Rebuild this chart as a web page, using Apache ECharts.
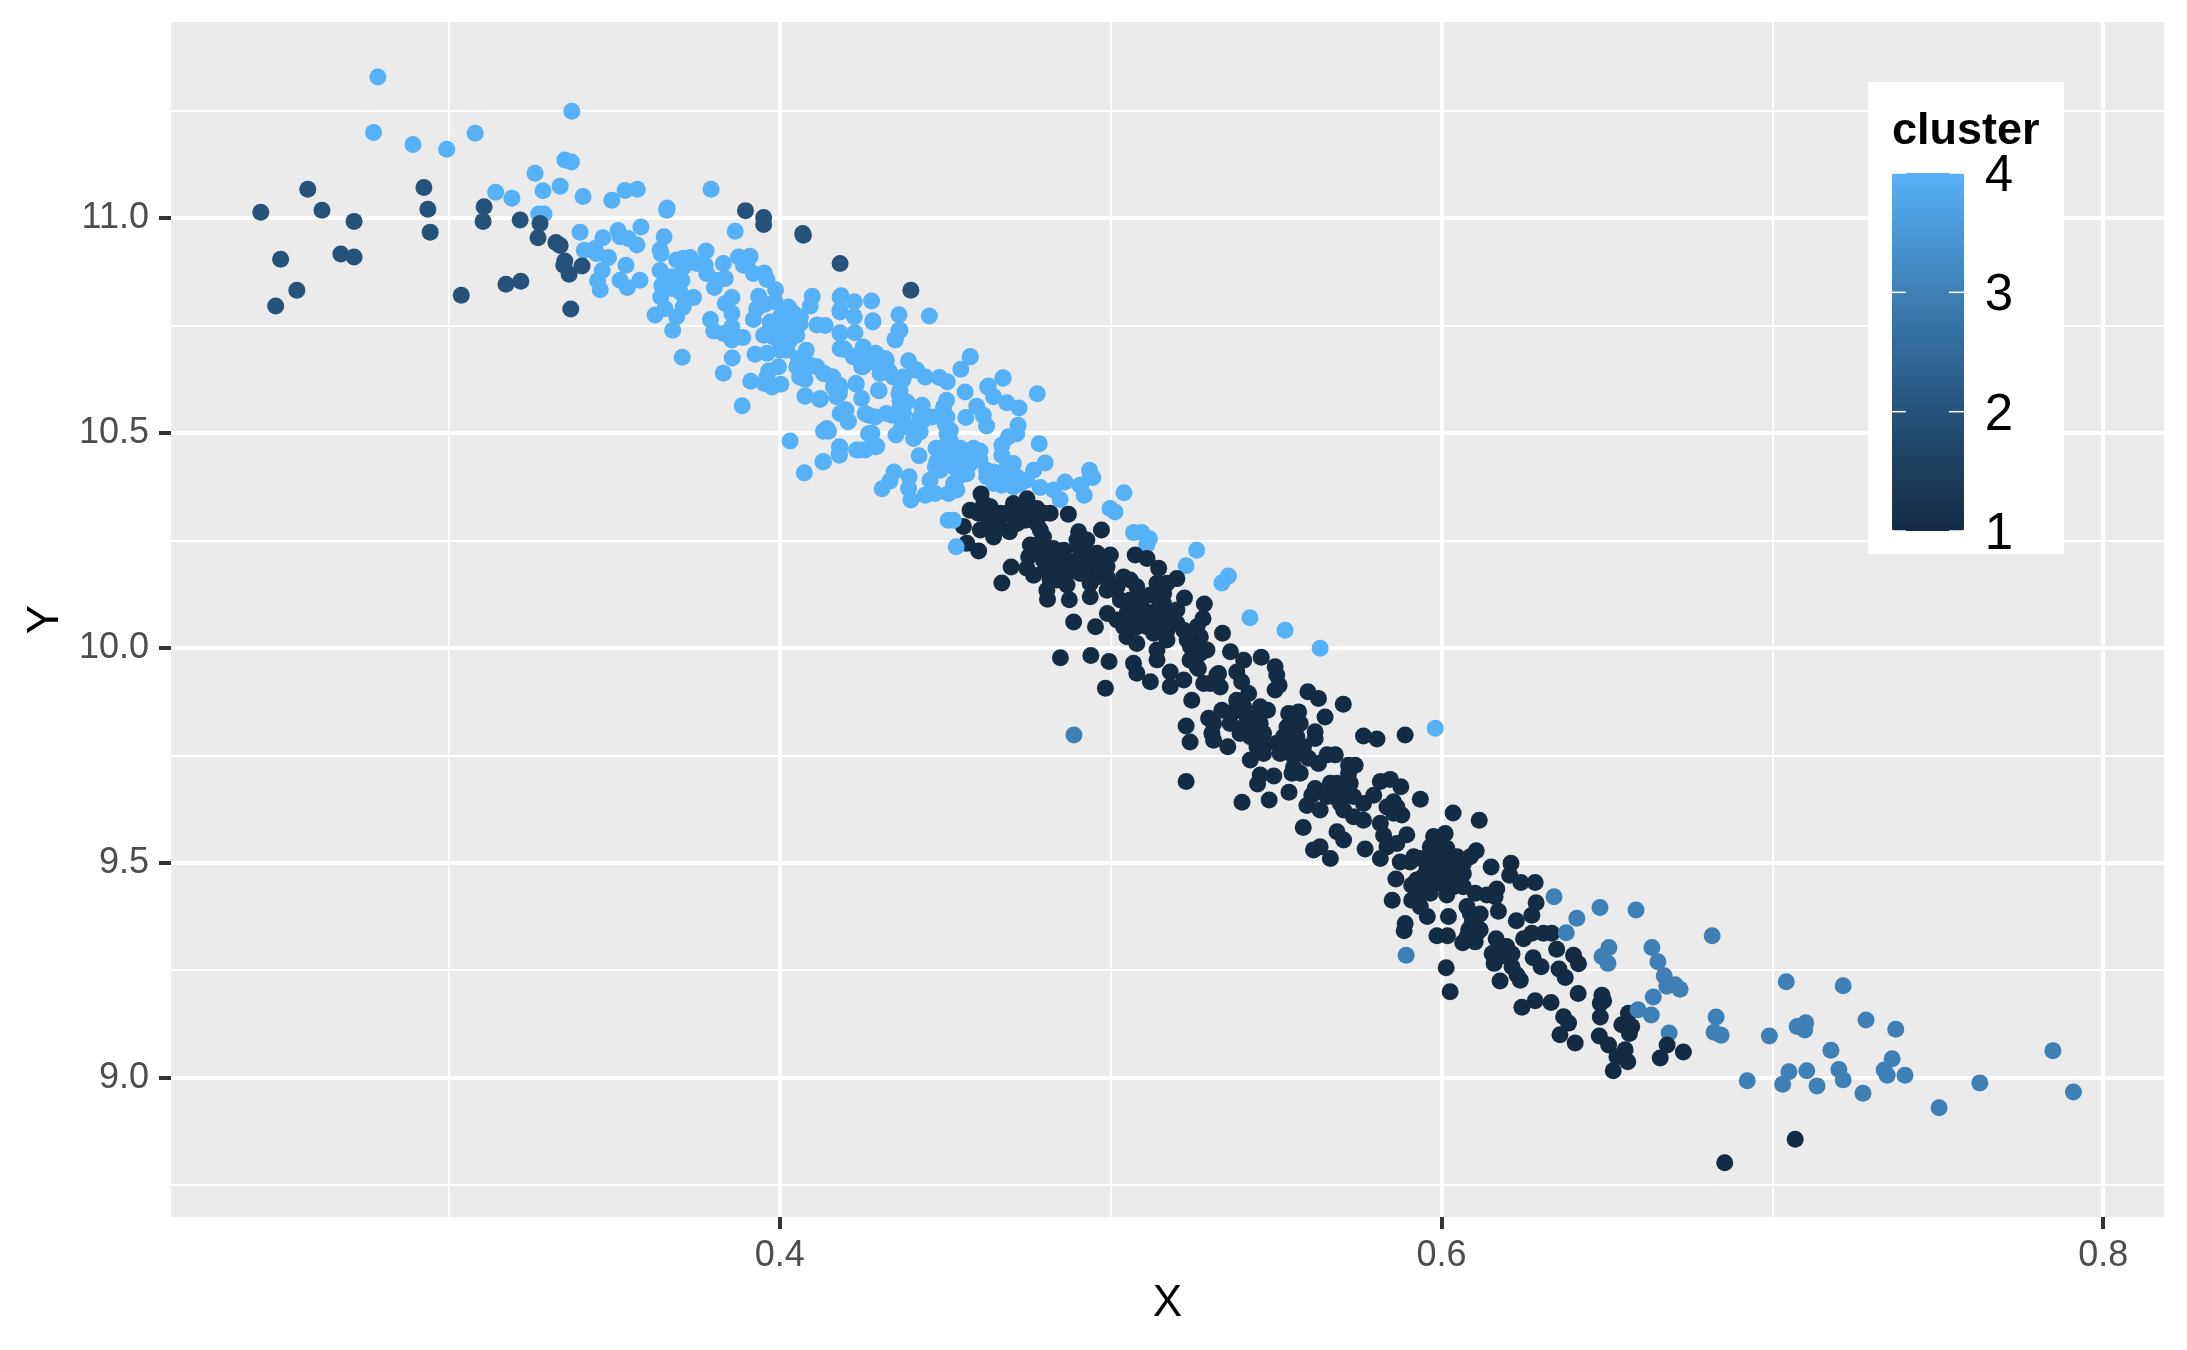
<!DOCTYPE html>
<html>
<head>
<meta charset="utf-8">
<style>html,body{margin:0;padding:0;background:#fff}#chart{width:2187px;height:1350px}</style>
<script src="https://cdn.jsdelivr.net/npm/echarts@6/dist/echarts.min.js"></script>
</head>
<body>
<div id="chart"></div>
<script>
const xTicks = [0.4, 0.6, 0.8];
const xMinorTicks = [0.3, 0.5, 0.7];
const yTicks = [9, 9.5, 10, 10.5, 11];
const yMinorTicks = [8.75, 9.25, 9.75, 10.25, 10.75, 11.25];
const legendValues = [4, 3, 2, 1];

const cluster4 = [
[.2785,11.328],[.3371,11.248],[.2772,11.199],[.2891,11.171],[.2993,11.160],[.3079,11.197],[.3260,11.104],[.3350,11.135],[.3370,11.130],[.3336,11.074],
[.3284,11.063],[.3141,11.060],[.3190,11.046],[.3405,11.050],[.3492,11.041],[.3532,11.064],[.3569,11.067],[.3792,11.067],[.3659,11.023],[.3271,11.009],[.3287,11.009],
[.3396,10.967],[.3465,10.954],[.3511,10.971],[.3517,10.956],[.3542,10.952],[.3568,10.937],[.3580,10.979],[.3409,10.925],[.3441,10.929],[.3446,10.917],
[.3482,10.908],[.3463,10.878],[.3449,10.854],[.3457,10.833],[.3535,10.890],[.3517,10.855],[.3539,10.838],[.3577,10.855],[.3650,10.956],[.3638,10.926],
[.3641,10.917],[.3638,10.878],[.3708,10.906],[.3729,10.908],[.3777,10.923],[.3774,10.890],[.3779,10.871],[.3829,10.894],[.3875,10.909],[.3910,10.911],
[.3890,10.890],[.3920,10.871],[.3953,10.872],[.3961,10.857],[.3865,10.969],[.3658,11.018],[.3673,10.863],[.3704,10.855],[.3643,10.843],[.3640,10.816],
[.3698,10.828],[.3739,10.815],[.3708,10.793],[.3623,10.774],[.3653,10.789],[.3688,10.770],[.3676,10.739],[.3802,10.838],[.3835,10.859],[.3855,10.815],
[.3835,10.801],[.3855,10.778],[.3790,10.764],[.3800,10.737],[.3830,10.731],[.3855,10.747],[.3855,10.716],[.3888,10.722],[.3936,10.818],[.3955,10.799],
[.3930,10.789],[.3920,10.764],[.3987,10.833],[.3986,10.805],[.4026,10.793],[.4005,10.762],[.3971,10.758],[.3951,10.727],[.4001,10.731],[.4036,10.770],
[.4062,10.770],[.4112,10.751],[.4098,10.818],[.4092,10.795],[.3705,10.676],[.3856,10.674],[.3829,10.639],[.3925,10.683],[.3961,10.685],[.4001,10.692],
[.4011,10.716],[.4080,10.692],[.4056,10.673],[.4094,10.657],[.3966,10.644],[.3996,10.654],[.3912,10.620],[.3953,10.615],[.3976,10.607],[.4003,10.613],
[.4060,10.630],[.4076,10.624],[.4132,10.638],[.4160,10.630],[.4076,10.585],[.4122,10.578],[.3886,10.563],[.4182,10.816],[.4182,10.785],[.4182,10.731],
[.4182,10.696],[.4182,10.607],[.4182,10.545],[.4142,10.510],
[.3981,10.754],[.4001,10.770],[.4031,10.785],[.3981,10.723],[.4011,10.747],[.4041,10.747],[.4061,10.754],[.4001,10.708],[.4031,10.716],[.3971,10.743],
[.4041,10.778],[.4021,10.692],[.4051,10.727],[.3708,10.886],[.3688,10.902],[.3749,10.894],[.3673,10.836],[.3714,10.813],[.3814,10.855],[.3900,10.894],
[.3961,10.630],[.4051,10.654],[.4081,10.654],[.4071,10.638],[.4112,10.654],[.4162,10.607],[.4172,10.584],
[.4137,10.750],[.4182,10.733],[.4227,10.733],[.4281,10.758],[.4363,10.739],[.4348,10.718],[.4194,10.695],[.4251,10.696],[.4222,10.677],[.4251,10.654],
[.4288,10.681],[.4318,10.673],[.4303,10.638],[.4328,10.646],[.4389,10.668],[.4409,10.646],[.4363,10.623],[.4439,10.630],[.4482,10.629],[.4506,10.619],
[.4547,10.648],[.4575,10.677],[.4674,10.627],[.4778,10.591],[.4628,10.607],[.4560,10.595],[.4646,10.584],[.4686,10.570],[.4723,10.558],[.4595,10.562],
[.4562,10.536],[.4615,10.541],[.4625,10.516],[.4720,10.518],[.4716,10.498],[.4691,10.491],[.4671,10.471],[.4671,10.448],[.4784,10.475],[.4802,10.430],
[.4767,10.413],[.4706,10.429],[.4676,10.409],[.4726,10.382],[.4671,10.378],[.4646,10.409],[.4862,10.386],[.4787,10.373],[.4827,10.367],[.4847,10.345],
[.4909,10.378],[.4936,10.413],[.4946,10.396],[.4920,10.355],[.4134,10.638],[.4157,10.630],[.4180,10.611],[.4230,10.615],[.4247,10.580],[.4300,10.598],
[.4122,10.580],[.4200,10.553],[.4207,10.527],[.4258,10.545],[.4288,10.537],[.4338,10.541],[.4363,10.557],[.4384,10.572],[.4363,10.599],[.4429,10.562],
[.4424,10.537],[.4504,10.576],[.4494,10.553],[.4459,10.537],[.4499,10.522],[.4278,10.499],[.4293,10.469],[.4232,10.460],[.4258,10.460],[.4147,10.504],
[.4132,10.504],[.4182,10.466],[.4179,10.450],[.4132,10.433],[.4351,10.495],[.4404,10.487],[.4424,10.502],[.4368,10.514],[.4388,10.514],[.4505,10.498],
[.4472,10.464],[.4474,10.433],[.4504,10.444],[.4545,10.464],[.4585,10.464],[.4605,10.458],[.4575,10.429],[.4421,10.447],[.4454,10.390],[.4484,10.413],
[.4540,10.398],[.4565,10.405],[.4535,10.367],[.4510,10.359],[.4345,10.409],[.4391,10.398],[.4333,10.388],[.4309,10.370],[.4389,10.371],[.4396,10.344],
[.4439,10.355],[.4469,10.359],[.4625,10.413],[.4625,10.398],
[.4484,10.452],[.4525,10.452],[.4565,10.444],[.4525,10.421],[.4565,10.421],[.4470,10.421],[.4605,10.437],[.4505,10.475],[.4495,10.561],[.4505,10.537],
[.4515,10.506],[.4515,10.483],[.4263,10.685],[.4293,10.661],[.4343,10.630],[.4374,10.630],[.4374,10.545],[.4394,10.514],[.4434,10.530],[.4656,10.398],
[.4686,10.390],[.4716,10.398],[.4646,10.382],[.4706,10.375],[.4746,10.390],[.4686,10.421],[.4525,10.382],[.4363,10.576],
[.4185,10.819],[.4225,10.805],[.4277,10.807],[.4182,10.781],[.4225,10.770],[.4281,10.761],[.4360,10.775],[.4452,10.772],[.4360,10.739],[.4349,10.716],
[.4195,10.694],[.4252,10.700],[.4290,10.685],[.4322,10.669],[.4247,10.654],[.4414,10.646],[.4333,10.638],[.4371,10.623],[.4576,10.677],[.4675,10.628],
[.4630,10.609],[.4231,10.613],[.4180,10.592],[.4298,10.599],[.4360,10.591],[.4198,10.553],[.4206,10.526],[.4268,10.541],[.4322,10.545],[.4366,10.553],
[.4430,10.564],[.4268,10.498],[.4290,10.468],[.4241,10.460],[.4180,10.468],[.4180,10.448],[.4077,10.586],[.4120,10.578],[.4031,10.481],[.4130,10.433],
[.4074,10.407],[.4161,10.626],
[.5040,10.361],[.4998,10.324],[.5013,10.316],[.5069,10.268],[.5094,10.268],[.5117,10.254],
[.5109,10.239],[.5260,10.227],[.5228,10.191],[.5336,10.151],[.5356,10.167],[.4908,10.378],[.4938,10.398],[.5421,10.070],[.5527,10.041],[.5633,9.999],[.5981,9.813]
];
const cluster4Front = [[.4509,10.297],[.4524,10.297],[.4533,10.235]];
const cluster3 = [
[.4889,9.797],[.5893,9.285],[.6340,9.421],[.6409,9.371],[.6479,9.396],[.6588,9.390],[.6506,9.303],[.6485,9.282],[.6503,9.266],[.6636,9.303],[.6654,9.270],
[.6818,9.330],[.6673,9.237],[.6681,9.213],[.6706,9.216],[.6721,9.206],[.6640,9.188],[.6688,9.104],[.6830,9.141],[.6824,9.106],[.6845,9.099],[.6991,9.097],
[.6924,8.993],[.7042,9.223],[.7214,9.214],[.7283,9.134],[.7373,9.113],[.7848,9.063],[.7910,8.967],[.7627,8.988],[.7504,8.930],[.7401,9.006],[.7362,9.044],
[.7338,9.018],[.7347,9.006],[.7274,8.964],[.7214,8.995],[.7201,9.019],[.7177,9.064],[.7135,8.981],[.7104,9.016],[.7050,9.014],[.7031,8.985],
[.7101,9.128],[.7075,9.119],[.7098,9.111]
];
const cluster3Front = [[.6377,9.337],[.6594,9.158],[.6634,9.146]];
const cluster2 = [
[.2431,11.013],[.2573,11.067],[.2616,11.018],[.2713,10.992],[.2924,11.071],[.2936,11.020],[.2943,10.967],[.2491,10.904],[.2673,10.916],[.2713,10.909],
[.2540,10.832],[.2476,10.795],[.3037,10.820],[.3172,10.846],[.3217,10.853],[.3368,10.788],[.3106,11.026],[.3103,10.992],[.3215,10.995],[.3275,10.987],
[.3269,10.954],[.3323,10.943],[.3336,10.936],[.3350,10.900],[.3347,10.890],[.3363,10.869],[.3402,10.888],[.3896,11.017],[.3951,11.001],[.3951,10.985],
[.4069,10.964],[.4071,10.960],[.4182,10.894],[.4396,10.832]
];
const cluster1 = [
[.4608,10.358],[.4575,10.320],[.4555,10.282],[.4600,10.313],[.4606,10.274],[.4646,10.258],[.4646,10.297],[.4694,10.270],[.4686,10.313],[.4706,10.336],
[.4747,10.347],[.4742,10.297],[.4777,10.324],[.4817,10.313],[.4872,10.311],[.4787,10.274],[.4797,10.258],[.4757,10.239],[.4752,10.212],[.4797,10.227],
[.4827,10.231],[.4858,10.227],[.4903,10.270],[.4928,10.251],[.4972,10.274],[.4903,10.235],[.4928,10.220],[.4898,10.204],[.4999,10.216],[.4989,10.189],
[.4699,10.188],[.4671,10.151],[.4747,10.185],[.4767,10.169],[.4802,10.181],[.4838,10.189],[.4868,10.196],[.4838,10.158],[.4868,10.146],[.4807,10.134],
[.4809,10.113],[.4875,10.112],[.4938,10.119],[.4938,10.150],[.4908,10.173],[.4958,10.165],[.5039,10.165],[.5019,10.142],[.4989,10.134],[.5074,10.216],
[.5110,10.208],[.5145,10.185],[.5200,10.161],[.5170,10.150],[.5120,10.123],[.5079,10.142],[.5059,10.111],[.5029,10.111],[.5223,10.116],[.5283,10.102],
[.5279,10.068],[.4990,10.080],[.4954,10.049],[.4888,10.060],[.5019,10.065],[.5049,10.080],[.5100,10.088],[.5160,10.103],[.5120,10.072],[.5170,10.065],
[.5079,10.049],[.5049,10.026],[.5130,10.034],[.5170,10.018],[.5221,10.041],[.5261,10.049],[.5271,10.026],[.5291,9.995],[.5241,10.003],[.5338,10.034],
[.4848,9.977],[.4940,9.982],[.4995,9.968],[.5069,9.964],[.5079,9.941],[.5140,9.995],[.5120,9.921],[.5180,9.944],[.5261,9.956],[.5221,9.925],
[.5321,9.937],[.5281,9.917],[.5362,9.991],[.4984,9.906],[.5180,9.910],[.4565,10.243],[.4601,10.225],[.5140,9.972],[.4636,10.328],[.4717,10.289],
[.4616,10.336],[.4817,10.204],[.4858,10.173],[.4959,10.204],[.5079,10.080],[.5140,10.049],[.5079,10.010],[.5200,10.088],
[.4626,10.313],[.4666,10.313],[.4707,10.305],[.4626,10.282],[.4666,10.282],[.4727,10.320],[.4757,10.313],[.4797,10.313],[.4777,10.289],[.4777,10.239],
[.4777,10.220],[.4817,10.212],[.4858,10.212],[.4898,10.251],[.4797,10.204],[.4938,10.189],[.4959,10.220],[.4868,10.173],[.4817,10.158],[.4989,10.165],
[.5059,10.158],[.5090,10.111],[.5140,10.150],[.5160,10.127],[.5069,10.080],[.5039,10.049],[.5110,10.049],[.5160,10.080],[.5200,10.057],[.5170,10.041],
[.5231,10.018],[.5271,9.995],[.5241,9.972],[.5140,10.088],[.4959,10.196],
[.5270,9.987],[.5240,9.971],[.5265,9.952],[.5402,9.971],[.5455,9.978],[.5497,9.956],[.5502,9.937],[.5381,9.944],[.5396,9.921],[.5326,9.940],
[.5331,9.909],[.5301,9.917],[.5509,9.913],[.5497,9.902],[.5417,9.894],[.5596,9.898],[.5628,9.882],[.5703,9.869],[.5648,9.839],[.5245,9.878],
[.5296,9.836],[.5228,9.818],[.5240,9.781],[.5306,9.801],[.5311,9.785],[.5354,9.770],[.5336,9.855],[.5371,9.851],[.5361,9.824],[.5402,9.863],
[.5402,9.816],[.5452,9.863],[.5474,9.855],[.5452,9.824],[.5462,9.801],[.5422,9.793],[.5391,9.801],[.5538,9.847],[.5568,9.851],[.5533,9.816],
[.5573,9.824],[.5618,9.805],[.5618,9.789],[.5553,9.793],[.5502,9.778],[.5543,9.770],[.5462,9.770],[.5422,9.739],[.5462,9.754],[.5553,9.747],
[.5598,9.743],[.5628,9.731],[.5654,9.751],[.5679,9.751],[.5548,9.708],[.5573,9.708],[.5719,9.727],[.5739,9.727],[.5719,9.708],[.5493,9.702],
[.5452,9.704],[.5444,9.683],[.5228,9.689],[.5397,9.641],[.5479,9.646],[.5539,9.664],[.5618,9.673],[.5608,9.657],[.5593,9.633],[.5633,9.623],
[.5664,9.685],[.5684,9.685],[.5724,9.685],[.5674,9.654],[.5694,9.638],[.5734,9.654],[.5764,9.638],[.5795,9.657],[.5815,9.689],[.5845,9.694],
[.5877,9.677],[.5936,9.648],[.5855,9.642],[.5880,9.611],[.5835,9.630],[.5764,9.599],[.5815,9.592],[.5684,9.572],[.5704,9.553],[.5582,9.582],
[.5769,9.532],[.5825,9.564],[.5895,9.565],[.5835,9.537],[.5865,9.545],[.6035,9.616],[.6011,9.568],[.5976,9.561],[.5966,9.537],[.6016,9.534],
[.5764,9.795],[.5805,9.788],[.5890,9.797],[.5633,9.537],[.5613,9.530],[.5664,9.510],[.5815,9.510],[.5916,9.514],[.5996,9.522],[.6047,9.514],
[.5381,9.878],[.5412,9.840],[.5442,9.840],[.5422,9.816],[.5543,9.824],[.5563,9.793],[.5522,9.793],[.5583,9.770],[.5442,9.770],[.5512,9.754],
[.5553,9.723],[.5674,9.677],[.5654,9.654],[.5714,9.669],[.5704,9.623],[.5734,9.607],[.5865,9.630],[.5855,9.615],[.5311,9.824],
[.6114,9.599],[.6105,9.528],[.6087,9.514],[.6150,9.490],[.6210,9.499],[.6206,9.471],[.6240,9.454],[.6283,9.454],[.5966,9.522],[.5996,9.545],
[.5936,9.510],[.5875,9.502],[.5905,9.502],[.5956,9.483],[.5986,9.491],[.6016,9.514],[.6046,9.506],[.6066,9.475],[.6016,9.475],[.5986,9.452],
[.5945,9.444],[.5910,9.448],[.5862,9.462],[.5851,9.413],[.5910,9.413],[.5936,9.398],[.5957,9.375],[.6016,9.425],[.6066,9.444],[.6102,9.429],
[.6137,9.425],[.6167,9.439],[.6162,9.421],[.6172,9.387],[.6021,9.375],[.6077,9.398],[.6117,9.381],[.6092,9.359],[.6117,9.344],[.6082,9.344],
[.6102,9.316],[.6064,9.314],[.5890,9.359],[.5887,9.342],[.5986,9.330],[.6018,9.330],[.6014,9.256],[.6026,9.200],[.6226,9.365],[.6273,9.378],
[.6286,9.407],[.6248,9.323],[.6273,9.336],[.6308,9.336],[.6333,9.336],[.6348,9.299],[.6165,9.323],[.6197,9.305],[.6213,9.288],[.6153,9.289],
[.6159,9.266],[.6213,9.258],[.6228,9.239],[.6238,9.227],[.6177,9.225],[.6277,9.279],[.6301,9.258],[.6355,9.253],[.6374,9.233],[.6399,9.285],
[.6414,9.265],[.6413,9.196],[.6485,9.192],[.6490,9.179],[.6480,9.173],[.6283,9.179],[.6331,9.175],[.6243,9.164],
[.5966,9.499],[.5996,9.514],[.6016,9.491],[.6046,9.475],[.5945,9.468],[.5976,9.468],[.6006,9.452],[.6036,9.444],[.5935,9.429],[.5966,9.429],
[.5986,9.483],[.6066,9.499],[.5925,9.460],[.5976,9.530],[.6087,9.382],[.6097,9.367],[.6107,9.336],[.6077,9.328],[.6187,9.289],[.6207,9.289],[.6177,9.282],
[.6369,9.142],[.6480,9.141],[.6384,9.127],[.6358,9.100],[.6404,9.081],[.6477,9.097],[.6505,9.076],[.6565,9.150],[.6545,9.123],[.6575,9.119],
[.6568,9.103],[.6555,9.065],[.6530,9.049],[.6563,9.037],[.6519,9.016],[.6682,9.076],[.6661,9.046],[.6731,9.060],[.7069,8.857],[.6856,8.802]
];

const withCluster = (rows, c) => rows.map(r => [r[0], r[1], c]);
const points = [].concat(
  withCluster(cluster4, 4),
  withCluster(cluster2, 2),
  withCluster(cluster3, 3),
  withCluster(cluster1, 1),
  withCluster(cluster4Front, 4),
  withCluster(cluster3Front, 3)
);

const FONT = '"Liberation Sans", Arial, sans-serif';
const grid = {left: 171, top: 22, width: 1993, height: 1195, outerBoundsMode: 'none', containLabel: false};
const xRange = {min: 0.21596, max: 0.81838};
const yRange = {min: 8.676, max: 11.4558};
const barTop = 173, barH = 358, barX = 1892, barW = 72;

const legendGraphics = [
  {type: 'rect', z: 5, shape: {x: 1868, y: 82, width: 196, height: 472}, style: {fill: '#fff'}},
  {type: 'text', z: 8, style: {x: barX, y: 132, text: 'cluster', fill: '#000', font: 'bold 45px ' + FONT, verticalAlign: 'middle'}}
];
legendValues.forEach(v => {
  const y = barTop + barH * (4 - v) / 3;
  legendGraphics.push({type: 'text', z: 8, style: {x: 1999, y: y + 4, text: String(v), fill: '#000', font: '51px ' + FONT, align: 'center', verticalAlign: 'middle'}});
  legendGraphics.push({type: 'line', z: 8, shape: {x1: barX, y1: y, x2: barX + 14, y2: y}, style: {stroke: '#fff', lineWidth: 1.5}});
  legendGraphics.push({type: 'line', z: 8, shape: {x1: barX + 57, y1: y, x2: barX + 72, y2: y}, style: {stroke: '#fff', lineWidth: 1.5}});
});

const chart = echarts.init(document.getElementById('chart'), null, {renderer: 'canvas'});
chart.setOption({
  animation: false,
  backgroundColor: '#fff',
  grid: Object.assign({show: true, backgroundColor: '#EBEBEB', borderWidth: 0}, grid),
  xAxis: [
    Object.assign({type: 'value', name: 'X', nameLocation: 'middle', nameGap: 65,
      nameTextStyle: {fontFamily: FONT, fontSize: 44, color: '#000'},
      axisLine: {show: false},
      axisTick: {show: true, length: 12, customValues: xTicks, lineStyle: {color: '#333333', width: 4}},
      axisLabel: {show: true, customValues: xTicks, margin: 21, fontFamily: FONT, fontSize: 36, color: '#4D4D4D', formatter: v => v.toFixed(1)},
      splitLine: {show: true, lineStyle: {color: '#fff', width: 4}}}, xRange),
    Object.assign({type: 'value', axisLine: {show: false},
      axisTick: {show: false, customValues: xMinorTicks},
      axisLabel: {show: false, customValues: xMinorTicks},
      splitLine: {show: true, lineStyle: {color: '#fff', width: 2}}}, xRange)
  ],
  yAxis: [
    Object.assign({type: 'value', name: 'Y', nameLocation: 'middle', nameGap: 98,
      nameTextStyle: {fontFamily: FONT, fontSize: 44, color: '#000'},
      axisLine: {show: false},
      axisTick: {show: true, length: 12, customValues: yTicks, lineStyle: {color: '#333333', width: 4}},
      axisLabel: {show: true, customValues: yTicks, margin: 22, fontFamily: FONT, fontSize: 36, color: '#4D4D4D', formatter: v => v.toFixed(1)},
      splitLine: {show: true, lineStyle: {color: '#fff', width: 4}}}, yRange),
    Object.assign({type: 'value', axisLine: {show: false},
      axisTick: {show: false, customValues: yMinorTicks},
      axisLabel: {show: false, customValues: yMinorTicks},
      splitLine: {show: true, lineStyle: {color: '#fff', width: 2}}}, yRange)
  ],
  visualMap: {
    type: 'continuous', min: 1, max: 4, dimension: 2, seriesIndex: 0,
    calculable: false, realtime: false, show: true, z: 6,
    left: barX, top: barTop, itemWidth: barW, itemHeight: barH, padding: 0,
    showLabel: false, text: null,
    inRange: {color: ['#132B43', '#26527A', '#3E80B6', '#56B1F7']}
  },
  graphic: legendGraphics,
  series: [{
    type: 'scatter', xAxisIndex: 0, yAxisIndex: 0, data: points,
    symbol: 'circle', symbolSize: 17, itemStyle: {opacity: 1},
    emphasis: {disabled: true}, silent: true
  }]
});
</script>
</body>
</html>
